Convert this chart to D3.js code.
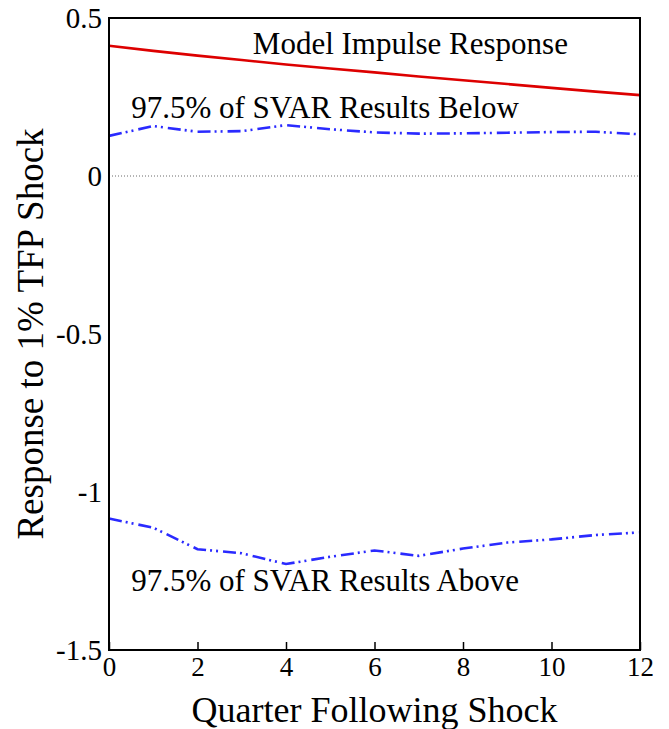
<!DOCTYPE html>
<html>
<head>
<meta charset="utf-8">
<script src="https://cdn.jsdelivr.net/npm/d3@7"></script>
<style>
  body { margin: 0; background: #fff; }
  svg text { font-family: "Liberation Serif", "Times New Roman", Times, Tinos, "DejaVu Serif", serif; fill: #000; }
</style>
</head>
<body>
<svg id="chart"></svg>
<script>
// quarters after the shock
const quarters = [0, 1, 2, 3, 4, 5, 6, 7, 8, 9, 10, 11, 12]
// model impulse response (red)
const model = [0.412, 0.396, 0.381, 0.367, 0.353, 0.340, 0.328, 0.315, 0.303, 0.291, 0.279, 0.267, 0.256]
// 97.5% band, upper and lower (blue dash-dot)
const upper = [0.127, 0.158, 0.140, 0.142, 0.161, 0.148, 0.138, 0.134, 0.135, 0.137, 0.139, 0.140, 0.132]
const lower = [-1.084, -1.113, -1.181, -1.194, -1.228, -1.205, -1.185, -1.202, -1.179, -1.160, -1.150, -1.136, -1.128]

const xTicks = [0, 2, 4, 6, 8, 10, 12]
const yTicks = [0.5, 0, -0.5, -1, -1.5]

const serif = '"Liberation Serif", "Times New Roman", Times, Tinos, "DejaVu Serif", serif'

const width = 669, height = 729
const margin = {top: 18, right: 29, bottom: 79, left: 109}

let svg = d3.select('#chart')
    .attr('width', width)
    .attr('height', height)

let x = d3.scaleLinear().domain([0, 12]).range([margin.left, width - margin.right])
let y = d3.scaleLinear().domain([-1.5, 0.5]).range([height - margin.bottom, margin.top])

// zero line
svg.append('line')
    .attr('x1', x(0)).attr('x2', x(12))
    .attr('y1', y(0)).attr('y2', y(0))
    .attr('stroke', '#444')
    .attr('stroke-width', 0.8)
    .attr('stroke-dasharray', '1,2')

let line = d3.line()
    .x((d, i) => x(quarters[i]))
    .y(d => y(d))

svg.append('path')
    .datum(model)
    .attr('d', line)
    .attr('fill', 'none')
    .attr('stroke', '#dd0000')
    .attr('stroke-width', 2.6)

svg.selectAll('path.band')
    .data([upper, lower])
    .enter()
    .append('path')
    .attr('class', 'band')
    .attr('d', line)
    .attr('fill', 'none')
    .attr('stroke', '#2a2aff')
    .attr('stroke-width', 2.6)
    .attr('stroke-dasharray', '13,4,2,4,2,5')

// frame
svg.append('rect')
    .attr('x', x(0)).attr('y', y(0.5))
    .attr('width', x(12) - x(0))
    .attr('height', y(-1.5) - y(0.5))
    .attr('fill', 'none')
    .attr('stroke', '#000')
    .attr('stroke-width', 2)

// x axis: ticks pointing inward, labels below
let xAxis = d3.axisBottom(x)
    .tickValues(xTicks)
    .tickSize(-8)
    .tickPadding(7)
    .tickFormat(d => String(d))

let gx = svg.append('g')
    .attr('transform', `translate(0,${y(-1.5)})`)
    .call(xAxis)
gx.attr('font-family', serif)
gx.select('.domain').remove()
gx.selectAll('line').attr('stroke', '#000').attr('stroke-width', 1.5)
gx.selectAll('text')
    .style('font-size', '27px')
    .attr('fill', '#000')

// y axis: labels only, plain hyphen minus as in the original
let yAxis = d3.axisLeft(y)
    .tickValues(yTicks)
    .tickSize(0)
    .tickPadding(7)
    .tickFormat(d => String(d))

let gy = svg.append('g')
    .attr('transform', `translate(${x(0)},0)`)
    .call(yAxis)
gy.attr('font-family', serif)
gy.select('.domain').remove()
gy.selectAll('text')
    .style('font-size', '29px')
    .attr('fill', '#000')

// axis titles
svg.append('text')
    .attr('x', (x(0) + x(12)) / 2)
    .attr('y', 722)
    .attr('text-anchor', 'middle')
    .style('font-size', '36px')
    .text('Quarter Following Shock')

svg.append('text')
    .attr('transform', `translate(43,${(y(0.5) + y(-1.5)) / 2}) rotate(-90)`)
    .attr('text-anchor', 'middle')
    .style('font-size', '37px')
    .text('Response to 1%  TFP Shock')

// annotations
let notes = [
    {text: 'Model Impulse Response', qx: 3.25, v: 0.385},
    {text: '97.5% of SVAR Results Below', qx: 0.5, v: 0.185},
    {text: '97.5% of SVAR Results Above', qx: 0.5, v: -1.312}
]
svg.selectAll('text.note')
    .data(notes)
    .enter()
    .append('text')
    .attr('class', 'note')
    .attr('x', d => x(d.qx))
    .attr('y', d => y(d.v))
    .style('font-size', '31px')
    .text(d => d.text)
</script>
</body>
</html>
